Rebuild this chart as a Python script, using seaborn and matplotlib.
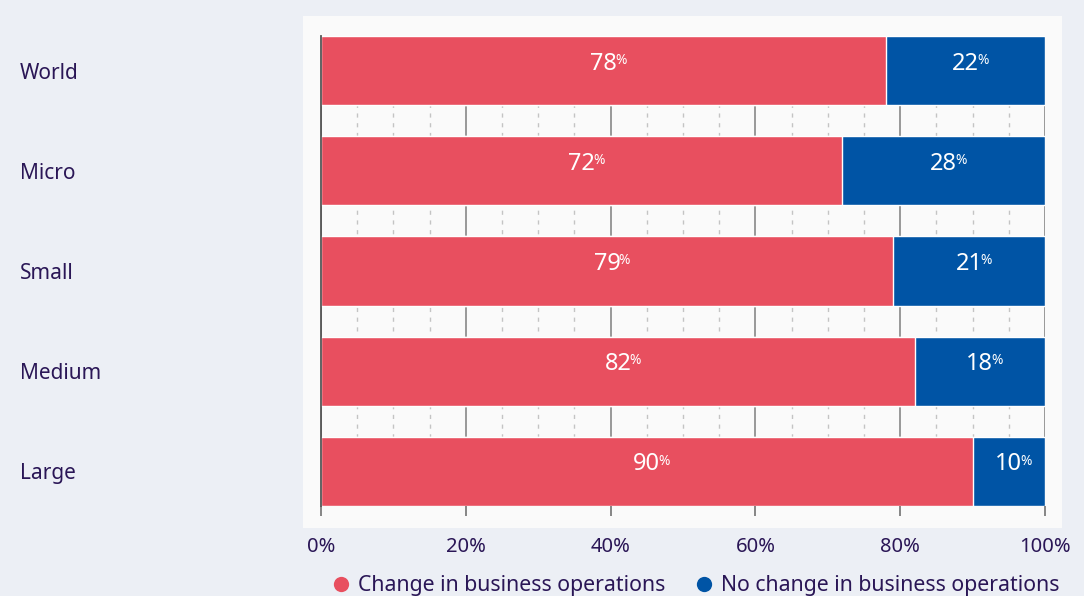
import matplotlib
matplotlib.use("Agg")
import matplotlib.pyplot as plt
from matplotlib.patches import Rectangle
from matplotlib.lines import Line2D
from matplotlib.ticker import MultipleLocator, FuncFormatter
import seaborn as sns
import pandas as pd

# Share of firms by size class
categories = ["World", "Micro", "Small", "Medium", "Large"]
change = [78, 72, 79, 82, 90]
no_change = [22, 28, 21, 18, 10]
series_names = ["Change in business operations", "No change in business operations"]

RED = "#E84F5F"
BLUE = "#0054A5"
INK = "#2A1656"
BG = "#ECEFF5"
PANEL = "#FAFAFA"

sns.set_theme(style="white")
plt.rcParams["font.family"] = ["Noto Sans", "DejaVu Sans"]

df = pd.DataFrame({"category": categories, "change": change, "no_change": no_change})
df["total"] = df["change"] + df["no_change"]

fig = plt.figure(figsize=(10.84, 5.96), dpi=100, facecolor=BG)
fig.patches.append(Rectangle((303 / 1084, 1 - 528 / 596), (1062 - 303) / 1084, (528 - 16) / 596,
                             transform=fig.transFigure, facecolor=PANEL, edgecolor="none", zorder=-1))
ax = fig.add_axes([321 / 1084, 90 / 596, (1045 - 321) / 1084, (506 - 36) / 596])
ax.set_facecolor("none")
ax.set_zorder(2)

# Stacked bars: full-length blue underneath, red share on top
sns.barplot(data=df, x="total", y="category", color=BLUE, width=0.69, saturation=1, ax=ax, zorder=3)
sns.barplot(data=df, x="change", y="category", color=RED, width=0.69, saturation=1, ax=ax, zorder=4)

ax.set_xlim(0, 100)
ax.set_ylim(4.345, -0.345)
ax.set_xlabel("")
ax.set_ylabel("")

# Grid: solid majors every 20 %, dashed minors every 5 %
ax.xaxis.set_major_locator(MultipleLocator(20))
ax.xaxis.set_minor_locator(MultipleLocator(5))
ax.xaxis.set_major_formatter(FuncFormatter(lambda v, p: f"{v:.0f}%"))
ax.grid(axis="x", which="major", color="#7d7d7d", linewidth=1.1, zorder=1)
ax.grid(axis="x", which="minor", color="#c4c4c4", linewidth=1.0, linestyle=(0, (3, 4)), zorder=1)
ax.set_axisbelow(True)

ax.tick_params(axis="x", which="major", length=7.2, width=1.1, color="#666666",
               pad=15, labelsize=14.5, labelcolor=INK, bottom=True)
ax.tick_params(axis="x", which="minor", length=0)
ax.tick_params(axis="y", length=0, pad=216.7, labelsize=15, labelcolor=INK)
for lab in ax.get_yticklabels():
    lab.set_horizontalalignment("left")
    lab.set_verticalalignment("center_baseline")

for side in ["top", "right", "bottom"]:
    ax.spines[side].set_visible(False)
ax.spines["left"].set_color("#555555")
ax.spines["left"].set_linewidth(1.3)
ax.spines["left"].set_zorder(6)

# Value labels with superscript percent sign
for i, (c, n) in enumerate(zip(change, no_change)):
    for center, val in [(c / 2, c), (c + n / 2, n)]:
        t = ax.annotate(f"{val}", xy=(center, i), xytext=(0, 5), textcoords="offset points",
                        ha="center", va="center", color="white", fontsize=17, zorder=7)
        ax.annotate("%", xy=(1, 0.95), xycoords=t, xytext=(-1.2, 0), textcoords="offset points",
                    ha="left", va="top", color="white", fontsize=10, zorder=7)

handles = [Line2D([], [], marker="o", linestyle="none", markersize=11, markerfacecolor=col,
                  markeredgecolor="none") for col in (RED, BLUE)]
fig.legend(handles, series_names, loc="center", bbox_to_anchor=(695 / 1084, 1 - 586 / 596),
           ncol=2, frameon=False, fontsize=15.3, labelcolor=INK, handletextpad=0.3,
           columnspacing=1.3, handlelength=1.0, borderaxespad=0)

fig.savefig("out.png", dpi=100, facecolor=BG)
